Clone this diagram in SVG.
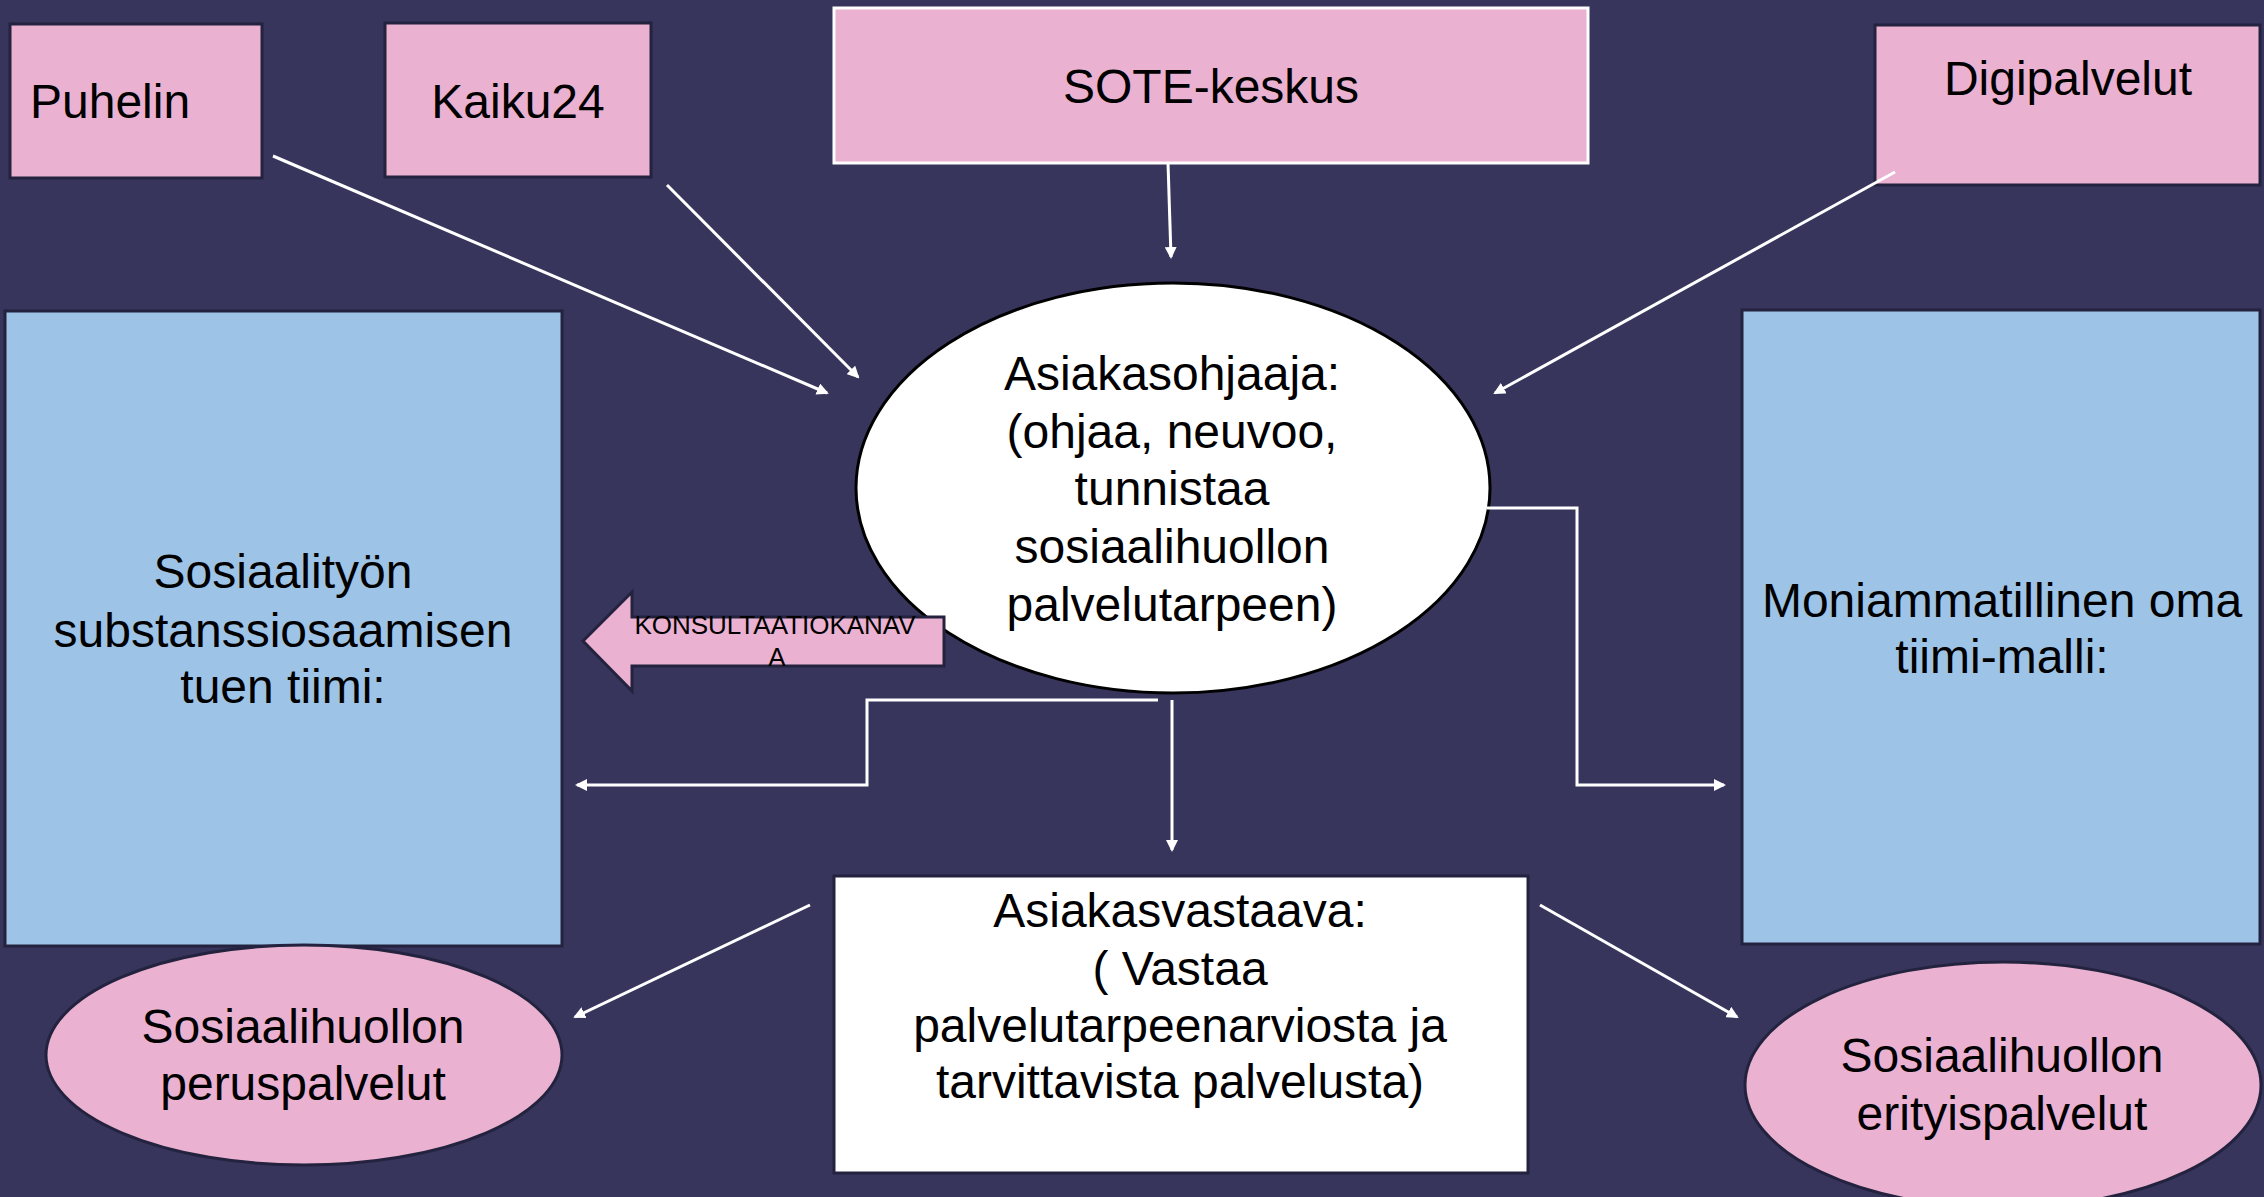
<svg xmlns="http://www.w3.org/2000/svg" width="2264" height="1197" viewBox="0 0 2264 1197">
<style>
.t{font-family:"Liberation Sans",Arial,sans-serif;font-size:48px;fill:#000;text-anchor:middle}
.s{font-family:"Liberation Sans",Arial,sans-serif;font-size:26px;fill:#000;text-anchor:middle}
.pink{fill:#eab1d1;stroke:#24233f;stroke-width:3}
.blue{fill:#9dc3e6;stroke:#24233f;stroke-width:3}
.c{fill:none;stroke:#fff;stroke-width:3}
</style>
<defs>
<marker id="ah" markerWidth="12" markerHeight="12" refX="10" refY="6" orient="auto" markerUnits="userSpaceOnUse" viewBox="0 0 12 12">
<path d="M0,0 L12,6 L0,12 z" fill="#fff"/>
</marker>
</defs>
<rect width="2264" height="1197" fill="#37355c"/>
<g id="puhelin"><rect class="pink" x="10" y="24" width="252" height="154"/><text class="t" x="30" y="118" style="text-anchor:start">Puhelin</text></g>
<g id="kaiku24"><rect class="pink" x="385" y="23" width="266" height="154"/><text class="t" x="518" y="118">Kaiku24</text></g>
<g id="sote"><rect x="834" y="8" width="754" height="155" fill="#eab1d1" stroke="#fff" stroke-width="3"/><text class="t" x="1211" y="103">SOTE-keskus</text></g>
<g id="digipalvelut"><rect class="pink" x="1875" y="25" width="385" height="160"/><text class="t" x="2068" y="95">Digipalvelut</text></g>
<g id="sosiaalityo"><rect class="blue" x="5" y="311" width="557" height="635"/>
<text class="t" x="283" y="588">Sosiaalityön</text><text class="t" x="283" y="647">substanssiosaamisen</text><text class="t" x="283" y="703">tuen tiimi:</text></g>
<g id="moniammatillinen"><rect class="blue" x="1742" y="310" width="518" height="634"/>
<text class="t" x="2002" y="617">Moniammatillinen oma</text><text class="t" x="2002" y="673">tiimi-malli:</text></g>
<g id="asiakasohjaaja"><ellipse cx="1173" cy="488" rx="317" ry="205" fill="#fff" stroke="#000" stroke-width="3"/>
<text class="t" x="1172" y="390">Asiakasohjaaja:</text><text class="t" x="1172" y="448">(ohjaa, neuvoo,</text><text class="t" x="1172" y="505">tunnistaa</text><text class="t" x="1172" y="563">sosiaalihuollon</text><text class="t" x="1172" y="621">palvelutarpeen)</text></g>
<g id="konsultaatio"><path d="M583,641 L632,592 L632,617 L944,617 L944,666 L632,666 L632,691 Z" fill="#eab1d1" stroke="#24233f" stroke-width="3"/>
<text class="s" x="775" y="634">KONSULTAATIOKANAV</text><text class="s" x="777" y="666">A</text></g>
<g id="asiakasvastaava"><rect x="834" y="876" width="694" height="297" fill="#fff" stroke="#24233f" stroke-width="3"/>
<text class="t" x="1180" y="927">Asiakasvastaava:</text><text class="t" x="1180" y="985">( Vastaa</text><text class="t" x="1180" y="1042">palvelutarpeenarviosta ja</text><text class="t" x="1180" y="1098">tarvittavista palvelusta)</text></g>
<g id="peruspalvelut"><ellipse cx="304" cy="1055" rx="258" ry="110" fill="#eab1d1" stroke="#24233f" stroke-width="3"/>
<text class="t" x="303" y="1043">Sosiaalihuollon</text><text class="t" x="303" y="1100">peruspalvelut</text></g>
<g id="erityispalvelut"><ellipse cx="2003" cy="1085" rx="258" ry="123" fill="#eab1d1" stroke="#24233f" stroke-width="3"/>
<text class="t" x="2002" y="1072">Sosiaalihuollon</text><text class="t" x="2002" y="1130">erityispalvelut</text></g>
<g id="connectors">
<line class="c" x1="273" y1="156" x2="827" y2="393" marker-end="url(#ah)"/>
<line class="c" x1="667" y1="185" x2="858" y2="377" marker-end="url(#ah)"/>
<line class="c" x1="1168" y1="163" x2="1171" y2="257" marker-end="url(#ah)"/>
<line class="c" x1="1895" y1="172" x2="1495" y2="393" marker-end="url(#ah)"/>
<polyline class="c" points="1487,508 1577,508 1577,785 1724,785" marker-end="url(#ah)"/>
<polyline class="c" points="1158,700 867,700 867,785 577,785" marker-end="url(#ah)"/>
<line class="c" x1="1172" y1="700" x2="1172" y2="850" marker-end="url(#ah)"/>
<line class="c" x1="810" y1="905" x2="575" y2="1017" marker-end="url(#ah)"/>
<line class="c" x1="1540" y1="905" x2="1737" y2="1017" marker-end="url(#ah)"/>
</g>
</svg>
